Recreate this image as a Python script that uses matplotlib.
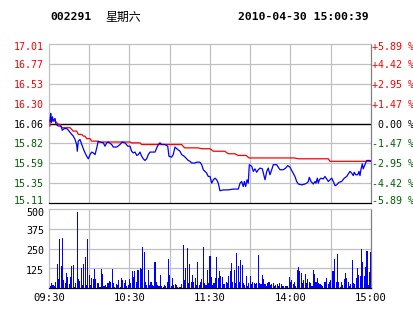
import matplotlib
matplotlib.use("Agg")
import matplotlib.pyplot as plt
from matplotlib.transforms import ScaledTranslation

# ---- values ----
code = "002291"
weekday = "星期六"
stamp = "2010-04-30 15:00:39"
prev_close = 16.06

# price line: minutes since 09:30 (lunch break removed) and price
price_min = [0.7, 1.3, 1.7, 2.5, 3.2, 4.5, 5.2, 6.9, 8.9, 9.9,
             11.4, 13.2, 14.4, 16.4, 18.1, 19.4, 20.6, 21.1, 21.8, 23.1,
             24.4, 26.3, 28.1, 29.3, 30.6, 31.8, 33.0, 34.3, 35.6, 36.7,
             38.0, 40.5, 41.7, 43.0, 44.2, 46.7, 47.9, 50.5, 52.9, 54.6,
             56.6, 58.7, 60.4, 61.6, 62.8, 64.1, 65.4, 66.6, 67.8, 69.1,
             70.3, 71.5, 72.8, 74.0, 75.3, 79.0, 80.3, 81.5, 82.7, 84.0,
             86.5, 88.5, 89.4, 91.4, 92.6, 93.9, 95.2, 97.6, 98.9, 100.8,
             102.6, 103.8, 105.1, 106.3, 108.8, 110.1, 112.5, 113.8, 115.0, 117.5,
             118.7, 120.0, 121.3, 122.5, 123.7, 125.0, 126.2, 127.4, 129.9, 133.6,
             137.4, 141.1, 142.4, 143.6, 144.8, 145.6, 146.6, 147.6, 148.5, 149.3,
             151.1, 152.3, 153.5, 154.8, 156.0, 157.3, 159.0, 161.0, 162.3, 163.4,
             164.7, 166.0, 167.2, 169.7, 170.9, 172.2, 174.6, 176.4, 177.9, 179.6,
             181.3, 183.3, 184.6, 185.8, 188.3, 190.8, 192.1, 193.3, 194.0, 195.3,
             197.0, 198.3, 199.0, 200.0, 200.7, 201.5, 202.7, 204.4, 205.7, 207.0,
             208.2, 209.4, 210.7, 211.9, 213.2, 214.4, 216.1, 218.1, 220.1, 221.9,
             223.1, 224.3, 225.6, 226.8, 227.5, 228.6, 230.1, 231.0, 231.8, 232.5,
             233.5, 234.2, 235.0, 236.0, 236.8, 239.2, 240.0]
price = [16.09, 16.18, 16.07, 16.14, 16.09, 16.12, 16.05, 16.03, 16.03, 15.98,
         16.00, 16.00, 15.98, 15.94, 15.91, 15.87, 15.81, 15.73, 15.85, 15.87,
         15.81, 15.73, 15.67, 15.64, 15.69, 15.72, 15.71, 15.69, 15.77, 15.85,
         15.84, 15.83, 15.79, 15.83, 15.84, 15.81, 15.78, 15.78, 15.81, 15.84,
         15.83, 15.79, 15.79, 15.73, 15.71, 15.72, 15.68, 15.69, 15.72, 15.67,
         15.64, 15.62, 15.64, 15.69, 15.72, 15.72, 15.77, 15.81, 15.83, 15.81,
         15.81, 15.79, 15.67, 15.66, 15.69, 15.78, 15.76, 15.73, 15.69, 15.67,
         15.64, 15.62, 15.61, 15.59, 15.59, 15.60, 15.60, 15.57, 15.51, 15.47,
         15.43, 15.43, 15.35, 15.39, 15.41, 15.39, 15.35, 15.26, 15.27, 15.27,
         15.28, 15.28, 15.35, 15.37, 15.31, 15.37, 15.31, 15.39, 15.35, 15.57,
         15.55, 15.49, 15.52, 15.48, 15.51, 15.53, 15.52, 15.39, 15.49, 15.53,
         15.45, 15.51, 15.57, 15.57, 15.54, 15.51, 15.51, 15.53, 15.56, 15.54,
         15.49, 15.43, 15.37, 15.34, 15.33, 15.34, 15.35, 15.37, 15.42, 15.37,
         15.34, 15.37, 15.35, 15.41, 15.35, 15.39, 15.41, 15.40, 15.43, 15.40,
         15.37, 15.39, 15.41, 15.37, 15.32, 15.33, 15.36, 15.37, 15.41, 15.43,
         15.46, 15.49, 15.47, 15.44, 15.48, 15.45, 15.45, 15.49, 15.44, 15.51,
         15.58, 15.52, 15.55, 15.59, 15.62, 15.62, 15.61]

# average price line
avg_min = [0.7, 0.8, 4.5, 5.7, 7.0, 8.2, 9.5, 15.7, 16.9, 18.0,
           20.6, 21.8, 24.4, 25.6, 26.8, 28.0, 30.6, 31.8, 36.0, 36.7,
           60.4, 61.6, 67.8, 69.0, 98.9, 101.0, 111.0, 113.8, 120.0, 122.5,
           131.0, 133.6, 138.6, 141.0, 147.0, 149.0, 183.0, 185.8, 208.2, 209.4,
           240.0]
avg_price = [16.03, 16.09, 16.09, 16.07, 16.05, 16.05, 16.01, 16.01, 15.99, 15.97,
             15.97, 15.93, 15.93, 15.91, 15.91, 15.88, 15.88, 15.85, 15.85, 15.84,
             15.84, 15.83, 15.83, 15.81, 15.81, 15.77, 15.77, 15.76, 15.76, 15.73,
             15.73, 15.70, 15.70, 15.68, 15.68, 15.65, 15.65, 15.64, 15.64, 15.61,
             15.61]

# volume per minute, minutes 1..240
volume = [10, 30, 20, 12, 36, 150, 57, 310, 139, 319,
          51, 30, 93, 72, 25, 72, 139, 146, 8, 30,
          479, 57, 44, 125, 19, 150, 194, 19, 310, 82,
          19, 65, 57, 120, 57, 30, 30, 8, 120, 87,
          15, 19, 8, 30, 44, 36, 120, 30, 8, 25,
          19, 51, 8, 61, 51, 30, 51, 15, 19, 57,
          30, 108, 72, 108, 40, 114, 112, 125, 122, 260,
          226, 40, 19, 114, 19, 40, 19, 10, 162, 36,
          19, 10, 82, 10, 8, 19, 10, 36, 184, 82,
          10, 65, 19, 25, 19, 8, 8, 8, 25, 272,
          51, 125, 255, 30, 150, 36, 82, 36, 65, 19,
          162, 19, 36, 57, 257, 30, 19, 114, 30, 200,
          72, 19, 30, 65, 198, 61, 108, 78, 72, 23,
          23, 36, 30, 78, 108, 156, 36, 114, 30, 222,
          141, 40, 177, 146, 30, 19, 78, 15, 30, 78,
          23, 36, 30, 23, 30, 209, 30, 23, 82, 57,
          23, 15, 30, 36, 19, 23, 30, 15, 19, 23,
          15, 30, 23, 15, 15, 15, 15, 15, 72, 40,
          51, 23, 36, 15, 116, 131, 108, 93, 30, 51,
          87, 30, 57, 36, 30, 15, 114, 87, 36, 61,
          30, 23, 19, 15, 40, 36, 65, 23, 40, 51,
          108, 108, 184, 40, 213, 40, 8, 36, 19, 57,
          93, 61, 36, 15, 23, 177, 30, 23, 61, 124,
          82, 78, 245, 162, 78, 131, 234, 19, 103, 226]

pct_steps = [5.89, 4.42, 2.95, 1.47, 0.0, -1.47, -2.95, -4.42, -5.89]
price_labels = ["17.01", "16.77", "16.53", "16.30", "16.06", "15.82", "15.59", "15.35", "15.11"]
pct_labels = ["+5.89 %", "+4.42 %", "+2.95 %", "+1.47 %", " 0.00 %",
              "-1.47 %", "-2.95 %", "-4.42 %", "-5.89 %"]
vol_ticks = [500, 375, 250, 125]
time_pos = [0, 60, 120, 180, 240]
time_labels = ["09:30", "10:30", "11:30", "14:00", "15:00"]

RED = "#ff0000"
GREEN = "#006000"
GRID = "#c0c0c0"
MONO = "DejaVu Sans Mono"

W, H = 414, 314
fig = plt.figure(figsize=(W / 100, H / 100), dpi=100)
fig.patch.set_facecolor("white")

ax = fig.add_axes([49 / W, 1 - 203 / H, 322 / W, 159 / H])
axv = fig.add_axes([49 / W, 1 - 288 / H, 322 / W, 79 / H])


def shifted(a, dy_px):
    # labels in the reference sit a little off their gridline (kept inside the panel)
    return a.get_yaxis_transform() + ScaledTranslation(0, -dy_px / 100, fig.dpi_scale_trans)


def label_shift(i, n):
    if i == 0:
        return 2.5
    if i == n - 1:
        return -2.5
    return 1.0


levels = [prev_close * (1 + p / 100) for p in pct_steps]

# price panel
ax.set_xlim(0, 240)
ax.set_ylim(levels[-1], levels[0])
for lv in levels[1:-1]:
    if lv == prev_close:
        ax.axhline(lv, color="black", lw=1.0, zorder=1)
    else:
        ax.axhline(lv, color=GRID, lw=0.9, zorder=0)
for t in range(30, 240, 30):
    ax.axvline(t, color=GRID, lw=0.9, zorder=0)
ax.plot(avg_min, avg_price, color=RED, lw=0.9, zorder=3)
ax.plot(price_min, price, color="#0000ff", lw=0.9, zorder=4)

n = len(levels)
for i, (lv, lab, pct) in enumerate(zip(levels, price_labels, pct_steps)):
    col = RED if pct > 0 else (GREEN if pct < 0 else "black")
    ax.text(-0.016, lv, lab, transform=shifted(ax, label_shift(i, n)), ha="right",
            va="center", color=col, fontsize=7.2, family=MONO)
for i, (lv, lab, pct) in enumerate(zip(levels, pct_labels, pct_steps)):
    col = RED if pct > 0 else (GREEN if pct < 0 else "black")
    ax.text(1.003, lv, lab, transform=shifted(ax, label_shift(i, n)), ha="left",
            va="center", color=col, fontsize=7.2, family=MONO)

# volume panel
axv.set_xlim(0, 240)
axv.set_ylim(0, 500)
for v in vol_ticks[1:]:
    axv.axhline(v, color=GRID, lw=0.9, zorder=0)
for t in range(30, 240, 30):
    axv.axvline(t, color=GRID, lw=0.9, zorder=0)
axv.bar(range(1, len(volume) + 1), volume, width=0.8, color="#0000ff", lw=0, zorder=3)
for v in vol_ticks:
    axv.text(-0.016, v, str(v), transform=shifted(axv, 4.5 if v == 500 else 2.5), ha="right",
             va="center", color="black", fontsize=7.2, family=MONO)
for t, lab in zip(time_pos, time_labels):
    axv.text(t, -0.13, lab, transform=axv.get_xaxis_transform(), ha="center",
             va="center", color="black", fontsize=7.6, family=MONO)

for a in (ax, axv):
    a.set_xticks([])
    a.set_yticks([])
    a.spines["left"].set_color(GRID)
    a.spines["top"].set_color(GRID)
    a.spines["right"].set_color("#808080")
    a.spines["bottom"].set_color("black")
    for s in a.spines.values():
        s.set_linewidth(0.9)

# header
fig.text(50 / W, 1 - 17 / H, code, ha="left", va="center", fontsize=8.2,
         family=MONO, weight="bold")
fig.text(105 / W, 1 - 17 / H, weekday, ha="left", va="center", fontsize=8.6,
         family=["Noto Sans CJK SC", "DejaVu Sans"])
fig.text(238 / W, 1 - 17 / H, stamp, ha="left", va="center", fontsize=8.2,
         family=MONO, weight="bold")

fig.savefig("out.png", dpi=100, facecolor="white")
